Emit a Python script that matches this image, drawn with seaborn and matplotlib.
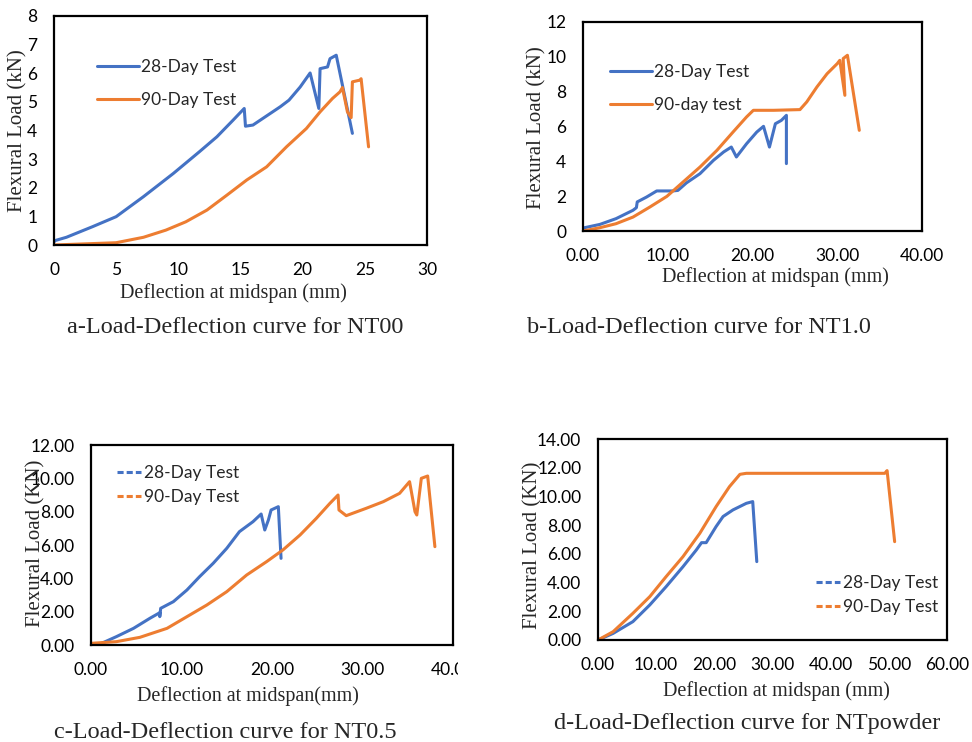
import numpy as np
import pandas as pd
import seaborn as sns
import matplotlib.pyplot as plt
from matplotlib.lines import Line2D
from matplotlib.transforms import Bbox, TransformedBbox

# --- data (deflection mm, load kN) ---
a28_x = [0.0, 0.05, 1.0, 3.1, 5.0, 7.2, 9.6, 11.7, 13.1, 14.4, 15.3, 15.4, 16.0, 18.2, 18.9, 19.8, 20.6, 21.3, 21.4, 22.0, 22.2, 22.7, 24.0]
a28_y = [0.1, 0.15, 0.27, 0.64, 0.99, 1.69, 2.5, 3.26, 3.78, 4.36, 4.77, 4.15, 4.19, 4.83, 5.06, 5.52, 6.01, 4.77, 6.16, 6.22, 6.51, 6.63, 3.9]
a90_x = [0.0, 5.0, 7.2, 9.0, 10.6, 12.3, 13.9, 15.5, 17.1, 18.7, 20.3, 21.4, 22.4, 23.0, 23.2, 23.6, 23.9, 24.0, 24.6, 24.7, 25.3]
a90_y = [0.0, 0.08, 0.27, 0.52, 0.81, 1.22, 1.74, 2.27, 2.73, 3.43, 4.07, 4.65, 5.12, 5.35, 5.5, 4.65, 4.45, 5.7, 5.76, 5.81, 3.43]

b28_x = [0.0, 2.0, 3.9, 5.9, 6.3, 6.4, 7.5, 8.7, 10.6, 11.2, 12.2, 13.8, 15.4, 16.6, 17.5, 18.1, 19.3, 20.5, 21.3, 22.0, 22.7, 23.4, 24.0, 24.0]
b28_y = [0.17, 0.38, 0.71, 1.19, 1.34, 1.67, 1.95, 2.3, 2.3, 2.33, 2.76, 3.29, 4.06, 4.54, 4.82, 4.25, 5.01, 5.68, 6.01, 4.82, 6.16, 6.35, 6.64, 3.87]
b90_x = [0.0, 2.0, 3.9, 5.9, 7.9, 9.9, 11.8, 13.8, 15.8, 17.7, 19.3, 20.1, 22.5, 25.6, 26.4, 27.6, 28.8, 30.0, 30.3, 30.9, 30.7, 31.2, 32.6]
b90_y = [0.0, 0.19, 0.42, 0.8, 1.38, 1.99, 2.81, 3.67, 4.63, 5.68, 6.55, 6.93, 6.93, 6.97, 7.41, 8.27, 9.03, 9.61, 9.8, 7.79, 9.9, 10.09, 5.78]

c28_x = [0.5, 1.0, 2.8, 4.7, 6.5, 7.6, 7.6, 7.7, 9.1, 10.6, 12.0, 13.5, 15.0, 16.4, 17.9, 18.8, 19.2, 19.6, 19.9, 20.7, 21.0]
c28_y = [0.0, 0.06, 0.5, 1.0, 1.6, 1.94, 1.7, 2.2, 2.6, 3.3, 4.1, 4.9, 5.8, 6.8, 7.4, 7.86, 6.9, 7.5, 8.1, 8.3, 5.2]
c90_x = [0.0, 2.8, 5.4, 8.4, 10.6, 12.8, 15.0, 17.2, 19.4, 21.2, 23.1, 24.9, 26.4, 27.3, 27.4, 28.2, 30.4, 32.3, 34.1, 35.2, 35.8, 36.0, 36.5, 37.2, 38.0]
c90_y = [0.1, 0.2, 0.46, 1.0, 1.7, 2.4, 3.2, 4.2, 5.0, 5.7, 6.6, 7.6, 8.5, 9.0, 8.1, 7.76, 8.2, 8.6, 9.1, 9.8, 8.0, 7.8, 10.0, 10.14, 5.9]

d28_x = [0.0, 2.6, 6.0, 8.9, 11.7, 14.6, 16.9, 17.8, 18.6, 20.3, 21.5, 23.2, 25.5, 26.6, 27.3]
d28_y = [0.0, 0.46, 1.28, 2.44, 3.71, 5.1, 6.27, 6.78, 6.78, 7.9, 8.6, 9.06, 9.52, 9.64, 5.46]
d90_x = [0.0, 2.6, 6.0, 8.9, 11.7, 14.6, 17.5, 20.3, 22.6, 24.4, 25.5, 49.3, 49.7, 51.0]
d90_y = [0.0, 0.58, 1.86, 3.02, 4.41, 5.8, 7.43, 9.29, 10.68, 11.54, 11.61, 11.61, 11.8, 6.85]

BLUE = '#4472C4'
ORANGE = '#ED7D31'

sns.set_style('white')
plt.rcParams['font.family'] = ['Lato', 'DejaVu Sans']
SERIF = 'Liberation Serif'

W, H = 972, 742
fig = plt.figure(figsize=(W / 100, H / 100), dpi=100)


def px_axes(l, t, r, b):
    return fig.add_axes([l / W, 1 - b / H, (r - l) / W, (b - t) / H])


def ftext(x, y, s, **kw):
    fig.text(x / W, 1 - y / H, s, ha='center', va='center', family=SERIF, **kw)


def panel(box, xs28, ys28, xs90, ys90, xmax, xstep, ymax, ystep, fmt, names, leg, dashed, handlelen, spacing):
    ax = px_axes(*box)
    df = pd.concat([
        pd.DataFrame({'x': xs28, 'y': ys28, 's': names[0]}),
        pd.DataFrame({'x': xs90, 'y': ys90, 's': names[1]}),
    ], ignore_index=True)
    sns.lineplot(data=df, x='x', y='y', hue='s', palette=[BLUE, ORANGE], sort=False,
                 estimator=None, linewidth=2.2, legend=False, ax=ax)
    ax.set_xlim(0, xmax)
    ax.set_ylim(0, ymax)
    xt = np.arange(0, xmax + 0.1, xstep)
    yt = np.arange(0, ymax + 0.1, ystep)
    ax.set_xticks(xt)
    ax.set_yticks(yt)
    ax.set_xticklabels([fmt[0].format(v) for v in xt])
    ax.set_yticklabels([fmt[1].format(v) for v in yt])
    ax.tick_params(length=0, labelsize=12.5, pad=12, colors='black')
    ax.set_xlabel('')
    ax.set_ylabel('')
    for sp in ax.spines.values():
        sp.set_color('black')
        sp.set_linewidth(1.6)
    ls = (0, (2, 1)) if dashed else '-'
    handles = [Line2D([], [], color=BLUE, lw=2.2, ls=ls), Line2D([], [], color=ORANGE, lw=2.2, ls=ls)]
    ax.legend(handles, names, loc='upper left', bbox_to_anchor=(leg[0] / W, 1 - leg[1] / H),
              bbox_transform=fig.transFigure, frameon=False, fontsize=12.5, borderpad=0,
              borderaxespad=0, handlelength=handlelen, handletextpad=0.15, labelspacing=spacing)
    return ax


# a
panel((54, 16, 427, 245), a28_x, a28_y, a90_x, a90_y, 30, 5, 8, 1, ('{:.0f}', '{:.0f}'),
      ['28-Day Test', '90-Day Test'], (97, 59), False, 2.4, 1.0)
ftext(18, 131, 'Flexural Load (kN)', rotation=90, fontsize=15)
ftext(233, 293, 'Deflection at midspan (mm)', fontsize=14.5)
ftext(235, 328, 'a-Load-Deflection curve for NT00', fontsize=17.5)

# b
panel((583, 22, 922, 231), b28_x, b28_y, b90_x, b90_y, 40, 10, 12, 2, ('{:.2f}', '{:.0f}'),
      ['28-Day Test', '90-day test'], (610, 64), False, 2.4, 1.0)
ftext(537, 128, 'Flexural Load (kN)', rotation=90, fontsize=15)
ftext(775, 277, 'Deflection at midspan (mm)', fontsize=14.5)
ftext(699, 327, 'b-Load-Deflection curve for NT1.0', fontsize=17.5)

# c
ax_c = panel((91, 445, 453, 645), c28_x, c28_y, c90_x, c90_y, 40, 10, 12, 2, ('{:.2f}', '{:.2f}'),
             ['28-Day Test', '90-Day Test'], (117, 465), True, 1.4, 0.45)
ftext(36, 543, 'Flexural Load (KN)', rotation=90, fontsize=15)
ftext(248, 696, 'Deflection at midspan(mm)', fontsize=14.5)
ftext(225, 732, 'c-Load-Deflection curve for NT0.5', fontsize=17.5)
clip = TransformedBbox(Bbox([[0, 0], [458 / W, 1]]), fig.transFigure)
for lab in ax_c.get_xticklabels():
    lab.set_clip_on(True)
    lab.set_clip_box(clip)

# d
panel((598, 439, 947, 640), d28_x, d28_y, d90_x, d90_y, 60, 10, 14, 2, ('{:.2f}', '{:.2f}'),
      ['28-Day Test', '90-Day Test'], (816, 575), True, 1.4, 0.45)
ftext(533, 545, 'Flexural Load (KN)', rotation=90, fontsize=15)
ftext(776, 691, 'Deflection at midspan (mm)', fontsize=14.5)
ftext(747, 723, 'd-Load-Deflection curve for NTpowder', fontsize=17.5)

fig.savefig('out.png', dpi=100)
